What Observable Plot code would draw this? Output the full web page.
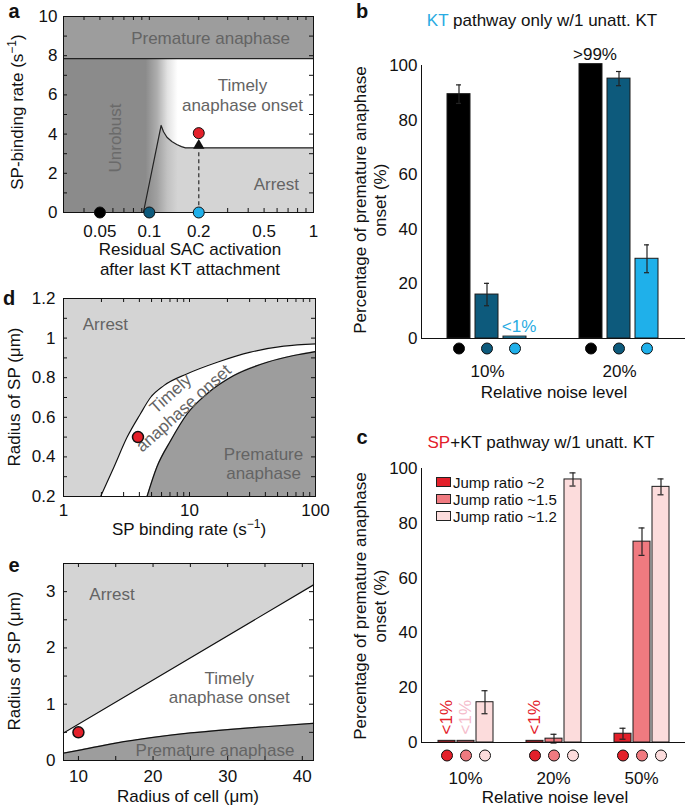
<!DOCTYPE html>
<html><head><meta charset="utf-8">
<script src="https://cdn.jsdelivr.net/npm/d3@7"></script>
<script src="https://cdn.jsdelivr.net/npm/@observablehq/plot@0.6"></script>
<style>
body{margin:0;background:#fff;}
#root{position:relative;width:685px;height:808px;font-family:"Liberation Sans",Arial,Helvetica,sans-serif;color:#111;overflow:hidden;background:#fff;}
.t{position:absolute;white-space:nowrap;transform:translate(-50%,-50%);font-size:17px;line-height:20px;text-align:center;}
.r{transform:translate(-50%,-50%) rotate(-90deg);}
.lg{position:absolute;font-size:15px;line-height:17px;white-space:nowrap;}
.lg span.sw{display:inline-block;width:13px;height:8px;border:1px solid #222;margin-right:2px;vertical-align:1px;}
</style></head><body><div id="root"></div>
<script>
// ================= DATA =================
// Panel a : phase diagram (log x)
const aXDomain = [0.03, 1];
const aYDomain = [0, 10];
const aXTicks = [0.05, 0.1, 0.2, 0.5, 1];
const aYTicks = [0, 2, 4, 6, 8, 10];
const aMinorX = [0.03,0.04,0.05,0.06,0.07,0.08,0.09,0.1,0.2,0.3,0.4,0.5,0.6,0.7,0.8,0.9];
const aMinorY = [1,2,3,4,5,6,7,8,9];
const aPrematureLevel = 7.85;
const aGradEnd = 0.15;
const aCurveX = [0.092, 0.118, 0.122, 0.128, 0.137, 0.147, 0.157, 0.166, 1];
const aCurveY = [0, 4.44, 4.12, 3.84, 3.62, 3.47, 3.36, 3.3, 3.3];
const aDotX = [0.05, 0.1, 0.2, 0.2];
const aDotY = [0, 0, 0, 4.05];
const aDotColor = ["#000000", "#0d5a7c", "#1fb0ea", "#e3202a"];
const aArrowX = [0.2];
const aArrowY = [0.35, 3.2];
const aArrowTipY = [3.42];
const aLabels = [
  {x: 0.236, y: 8.93, text: "Premature anaphase"},
  {x: 0.369, y: 6.0, text: "Timely\nanaphase onset"},
  {x: 0.594, y: 1.48, text: "Arrest"}
];
const aUnrobust = [{x: 0.062, y: 3.8, text: "Unrobust"}];

// Panel b : KT pathway only
const bGroupLabels = ["10%", "20%"];
const bGroup = ["10%","10%","10%","20%","20%","20%"];
const bMember = [0,1,2,0,1,2];
const bValue = [89.5, 16.1, 0.7, 100.5, 95.2, 29.2];
const bErr = [3.4, 4.1, 0, 0, 2.6, 5.1];
const bColors = ["#000000", "#0d5a7c", "#1fb0ea"];
const bNotes = [{g:"10%", k:2, v:0.7, text:"<1%", c:"#29abe2"}, {g:"20%", k:0, v:100.5, text:">99%", c:"#111111"}];

// Panel c : SP+KT pathway
const cGroupLabels = ["10%", "20%", "50%"];
const cGroup = ["10%","10%","10%","20%","20%","20%","50%","50%","50%"];
const cMember = [0,1,2,0,1,2,0,1,2];
const cValue = [0.6, 0.6, 14.7, 0.6, 1.4, 96.0, 3.2, 73.3, 93.3];
const cErr = [0, 0, 4.2, 0, 1.6, 2.4, 2.0, 5.0, 2.9];
const cColors = ["#e3202a", "#f07a80", "#fcdcdc"];
const cSeriesNames = ["Jump ratio ~2", "Jump ratio ~1.5", "Jump ratio ~1.2"];
const cNotes = [{g:"10%", k:0, text:"<1%", c:"#e3202a"}, {g:"10%", k:1, text:"<1%", c:"#f5bccb"}, {g:"20%", k:0, text:"<1%", c:"#e3202a"}];
const yTicksPct = [0, 20, 40, 60, 80, 100];

// Panel d : SP binding rate vs SP radius (log x)
const dXDomain = [1, 100];
const dYDomain = [0.2, 1.2];
const dXTicks = [1, 10, 100];
const dYTicks = [0.2, 0.4, 0.6, 0.8, 1, 1.2];
const dMinorX = [2,3,4,5,6,7,8,9,10,20,30,40,50,60,70,80,90];
const dMinorY = [0.3,0.4,0.5,0.6,0.7,0.8,0.9,1,1.1];
const dUpperX = [1.97, 2.51, 3.2, 4.08, 4.9, 6.25, 9.6, 16.6, 30.5, 56, 100];
const dUpperY = [0.2, 0.348, 0.5, 0.618, 0.70, 0.76, 0.82, 0.878, 0.929, 0.959, 0.971];
const dLowerX = [4.6, 5.5, 7.1, 9.6, 13.8, 22.5, 41.4, 67.3, 100];
const dLowerY = [0.2, 0.348, 0.483, 0.618, 0.719, 0.811, 0.878, 0.912, 0.932];
const dPoint = [{x: 3.9, y: 0.5}];
const dLabels = [{x: 2.15, y: 1.075, text: "Arrest"}, {x: 38.7, y: 0.368, text: "Premature\nanaphase"}];
const dTimely = [{x: 7.9, y: 0.685, text: "Timely\nanaphase onset"}];

// Panel e : cell radius vs SP radius
const eXDomain = [8, 41.5];
const eYDomain = [0, 3.5];
const eXTicks = [10, 20, 30, 40];
const eYTicks = [0, 1, 2, 3];
const eMinorX = [10,15,20,25,30,35,40];
const eMinorY = [0.5,1,1.5,2,2.5,3];
const eUpperX = [8, 41.5];
const eUpperY = [0.49, 3.12];
const eLowerX = [8, 10, 15, 20, 25, 30, 35, 41.5];
const eLowerY = [0.13, 0.18, 0.31, 0.41, 0.49, 0.55, 0.6, 0.66];
const ePoint = [{x: 10, y: 0.5}];
const eLabels = [{x: 14.5, y: 2.97, text: "Arrest"}, {x: 30.2, y: 1.3, text: "Timely\nanaphase onset"}, {x: 28.3, y: 0.19, text: "Premature anaphase"}];

// ================= STYLE =================
const FONT = '"Liberation Sans", Arial, Helvetica, sans-serif';
const LIGHT = "#d4d4d4", DARK = "#9d9d9d", UNROBUST = "#8b8b8b", RTEXT = "#646464";
const STYLE = {fontFamily: FONT, fontSize: "17px", color: "#111", background: "transparent", overflow: "visible"};
const root = document.getElementById("root");

function put(node, left, top) {
  node.style.position = "absolute"; node.style.left = left + "px"; node.style.top = top + "px";
  root.appendChild(node);
}
function label(html, cx, cy, opts = {}) {
  const d = document.createElement("div");
  d.className = "t" + (opts.rotate ? " r" : "");
  d.innerHTML = html;
  d.style.left = cx + "px"; d.style.top = cy + "px";
  if (opts.size) d.style.fontSize = opts.size + "px";
  if (opts.lh) d.style.lineHeight = opts.lh + "px";
  if (opts.bold) d.style.fontWeight = "bold";
  root.appendChild(d);
}
function innerTicks(xs, ys, iw, ih, len) {
  return [
    Plot.tickX(xs, {x: d => d, insetTop: ih - len, stroke: "#111"}),
    Plot.tickX(xs, {x: d => d, insetBottom: ih - len, stroke: "#111"}),
    Plot.tickY(ys, {y: d => d, insetRight: iw - len, stroke: "#111"}),
    Plot.tickY(ys, {y: d => d, insetLeft: iw - len, stroke: "#111"})
  ];
}
const pts = (xs, ys) => xs.map((x, i) => ({x, y: ys[i]}));

// ================= PANEL A =================
{
  const w = 340, h = 290, ml = 63, mr = 27, mt = 16, mb = 78;
  const gradDefs = () => {
    const defs = d3.create("svg:defs");
    const g = defs.append("linearGradient").attr("id", "unrobustGrad").attr("x1", 0).attr("x2", 1).attr("y1", 0).attr("y2", 0);
    [[0, 1], [0.72, 1], [0.82, 0.7], [0.91, 0.25], [1, 0]].forEach(([o, a]) =>
      g.append("stop").attr("offset", o).attr("stop-color", UNROBUST).attr("stop-opacity", a));
    return defs.node();
  };
  const plot = Plot.plot({
    width: w, height: h, marginLeft: ml, marginRight: mr, marginTop: mt, marginBottom: mb,
    style: STYLE,
    x: {type: "log", domain: aXDomain, ticks: aXTicks, tickSize: 0, tickPadding: 12, tickFormat: d => String(d), label: null},
    y: {domain: aYDomain, ticks: aYTicks, tickSize: 0, tickPadding: 6, tickFormat: d => String(d), label: null},
    color: {type: "identity"},
    marks: [
      gradDefs,
      Plot.areaY(pts(aCurveX, aCurveY), {x: "x", y1: 0, y2: "y", fill: LIGHT}),
      Plot.rect([aPrematureLevel], {x1: aXDomain[0], x2: aXDomain[1], y1: d => d, y2: aYDomain[1], fill: DARK}),
      Plot.rect([aGradEnd], {x1: aXDomain[0], x2: d => d, y1: aYDomain[0], y2: aPrematureLevel, fill: "url(#unrobustGrad)"}),
      Plot.ruleY([aPrematureLevel], {stroke: "#222", strokeWidth: 1.2}),
      Plot.line(pts(aCurveX, aCurveY), {x: "x", y: "y", stroke: "#222", strokeWidth: 1.2}),
      Plot.ruleX(aArrowX, {x: d => d, y1: aArrowY[0], y2: aArrowY[1], stroke: "#444", strokeWidth: 1.4, strokeDasharray: "4,3"}),
      Plot.dot(aArrowTipY, {x: aArrowX[0], y: d => d, symbol: "triangle", r: 4.2, fill: "#111"}),
      Plot.text(aLabels, {x: "x", y: "y", text: "text", fill: RTEXT, lineHeight: 1.15}),
      Plot.text(aUnrobust, {x: "x", y: "y", text: "text", fill: "#6a6a6a", rotate: -90}),
      ...innerTicks(aMinorX, aMinorY, w - ml - mr, h - mt - mb, 4),
      Plot.frame({stroke: "#111"}),
      Plot.dot(aDotX.map((x, i) => ({x, y: aDotY[i], c: aDotColor[i]})), {x: "x", y: "y", fill: "c", r: 5.5, stroke: "#111", strokeWidth: 1})
    ]
  });
  put(plot, 0, 0);
}

// ================= BAR PANELS =================
function barPanel({groups, members, values, errs, colors, groupLabels, left, top, w, h, mt, mb, pi, po, capInset, fxPad, dotDy, notes, rotatedNotes}) {
  const rows = groups.map((g, i) => ({g, k: members[i], v: values[i], e: errs[i], c: colors[members[i]]}));
  const eb = rows.filter(d => d.e > 0);
  const marks = [
    Plot.barY(rows, {fx: "g", x: "k", y: "v", fill: "c", stroke: "#1a1a1a", strokeWidth: 1}),
    Plot.ruleX(eb, {fx: "g", x: "k", y1: d => d.v - d.e, y2: d => d.v + d.e, stroke: "#222", strokeWidth: 1.2}),
    Plot.tickY(eb, {fx: "g", x: "k", y: d => d.v + d.e, insetLeft: capInset, insetRight: capInset, stroke: "#222", strokeWidth: 1.2}),
    Plot.tickY(eb, {fx: "g", x: "k", y: d => d.v - d.e, insetLeft: capInset, insetRight: capInset, stroke: "#222", strokeWidth: 1.2}),
    Plot.ruleY([0], {stroke: "#111"}),
    Plot.dot(rows, {fx: "g", x: "k", y: () => 0, dy: dotDy, r: 5.5, fill: "c", stroke: "#111", strokeWidth: 1})
  ];
  if (notes) marks.push(Plot.text(notes, {fx: "g", x: "k", y: "v", text: "text", fill: "c", dy: -10, dx: 4}));
  if (rotatedNotes) marks.push(Plot.text(rotatedNotes, {fx: "g", x: "k", y: () => 0, text: "text", fill: "c", rotate: -90, textAnchor: "start", dy: -8, fontSize: 17}));
  const plot = Plot.plot({
    width: w, height: h, marginLeft: 81, marginRight: 0, marginTop: mt, marginBottom: mb,
    style: STYLE,
    fx: {domain: groupLabels, padding: 0, axis: "bottom", tickSize: 0, tickPadding: fxPad, label: null},
    x: {domain: [0, 1, 2], paddingInner: pi, paddingOuter: po, axis: null},
    y: {domain: [0, 100], ticks: yTicksPct, tickSize: 0, tickPadding: 4, label: null, line: true},
    color: {type: "identity"},
    marks
  });
  put(plot, left, top);
}

barPanel({groups: bGroup, members: bMember, values: bValue, errs: bErr, colors: bColors, groupLabels: bGroupLabels,
  left: 340, top: 50, w: 345, h: 335, mt: 15, mb: 47, pi: 0.172, po: 0.862, capInset: 9, fxPad: 26, dotDy: 10,
  notes: bNotes});

barPanel({groups: cGroup, members: cMember, values: cValue, errs: cErr, colors: cColors, groupLabels: cGroupLabels,
  left: 340, top: 450, w: 345, h: 345, mt: 18, mb: 53, pi: 0.13, po: 0.82, capInset: 5.5, fxPad: 29, dotDy: 13,
  rotatedNotes: cNotes});

// ================= PANEL D =================
{
  const w = 340, h = 260, ml = 63, mr = 25, mt = 13, mb = 49;
  const plot = Plot.plot({
    width: w, height: h, marginLeft: ml, marginRight: mr, marginTop: mt, marginBottom: mb,
    style: STYLE,
    x: {type: "log", domain: dXDomain, ticks: dXTicks, tickSize: 0, tickPadding: 7, tickFormat: d => String(d), label: null},
    y: {domain: dYDomain, ticks: dYTicks, tickSize: 0, tickPadding: 8, tickFormat: d => String(d), label: null},
    marks: [
      Plot.frame({fill: LIGHT}),
      Plot.areaY(pts(dUpperX, dUpperY), {x: "x", y1: dYDomain[0], y2: "y", fill: "#fff", curve: "monotone-x"}),
      Plot.areaY(pts(dLowerX, dLowerY), {x: "x", y1: dYDomain[0], y2: "y", fill: DARK, curve: "monotone-x"}),
      Plot.line(pts(dUpperX, dUpperY), {x: "x", y: "y", stroke: "#111", strokeWidth: 1.2, curve: "monotone-x"}),
      Plot.line(pts(dLowerX, dLowerY), {x: "x", y: "y", stroke: "#111", strokeWidth: 1.2, curve: "monotone-x"}),
      Plot.text(dLabels, {x: "x", y: "y", text: "text", fill: RTEXT, lineHeight: 1.15}),
      Plot.text(dTimely, {x: "x", y: "y", text: "text", fill: RTEXT, lineHeight: 1.15, rotate: -42}),
      ...innerTicks(dMinorX, dMinorY, w - ml - mr, h - mt - mb, 4),
      Plot.frame({stroke: "#111"}),
      Plot.dot(dPoint, {x: "x", y: "y", r: 5.5, fill: "#e3202a", stroke: "#111"})
    ]
  });
  put(plot, 0, 285);
}

// ================= PANEL E =================
{
  const w = 340, h = 263, ml = 63, mr = 27, mt = 18, mb = 48;
  const plot = Plot.plot({
    width: w, height: h, marginLeft: ml, marginRight: mr, marginTop: mt, marginBottom: mb,
    style: STYLE,
    x: {domain: eXDomain, ticks: eXTicks, tickSize: 0, tickPadding: 9, tickFormat: d => String(d), label: null},
    y: {domain: eYDomain, ticks: eYTicks, tickSize: 0, tickPadding: 8, tickFormat: d => String(d), label: null},
    marks: [
      Plot.frame({fill: LIGHT}),
      Plot.areaY(pts(eUpperX, eUpperY), {x: "x", y1: eYDomain[0], y2: "y", fill: "#fff"}),
      Plot.areaY(pts(eLowerX, eLowerY), {x: "x", y1: eYDomain[0], y2: "y", fill: DARK, curve: "monotone-x"}),
      Plot.line(pts(eUpperX, eUpperY), {x: "x", y: "y", stroke: "#111", strokeWidth: 1.2}),
      Plot.line(pts(eLowerX, eLowerY), {x: "x", y: "y", stroke: "#111", strokeWidth: 1.2, curve: "monotone-x"}),
      Plot.text(eLabels, {x: "x", y: "y", text: "text", fill: RTEXT, lineHeight: 1.15}),
      ...innerTicks(eMinorX, eMinorY, w - ml - mr, h - mt - mb, 4),
      Plot.frame({stroke: "#111"}),
      Plot.dot(ePoint, {x: "x", y: "y", r: 5.5, fill: "#e3202a", stroke: "#111"})
    ]
  });
  put(plot, 0, 545);
}

// ================= TEXT (panel letters, titles, axis titles, legend) =================
label("a", 14, 11, {bold: true, size: 20, lh: 20});
label("b", 362, 11, {bold: true, size: 20, lh: 20});
label("c", 362, 437, {bold: true, size: 20, lh: 20});
label("d", 9, 298, {bold: true, size: 20, lh: 20});
label("e", 14, 565, {bold: true, size: 20, lh: 20});

label('<span style="color:#29abe2">KT</span> pathway only w/1 unatt. KT', 542, 21);
label('<span style="color:#e3202a">SP</span>+KT pathway w/1 unatt. KT', 541, 443);

label("SP-binding rate (s<sup style='font-size:12px'>−1</sup>)", 15, 112, {rotate: true});
label("Residual SAC activation<br>after last KT attachment", 190, 260);
label("Percentage of premature anaphase<br>onset (%)", 371, 200, {rotate: true});
label("Relative noise level", 554, 393);
label("Percentage of premature anaphase<br>onset (%)", 371, 606, {rotate: true});
label("Relative noise level", 555, 798);
label("Radius of SP (μm)", 15, 397, {rotate: true});
label("SP binding rate (s<sup style='font-size:12px'>−1</sup>)", 189, 527);
label("Radius of SP (μm)", 15, 661, {rotate: true});
label("Radius of cell (μm)", 188, 797);

{
  const lg = document.createElement("div");
  lg.className = "lg";
  lg.innerHTML = cSeriesNames.map((n, i) => `<div><span class="sw" style="background:${cColors[i]}"></span>${n}</div>`).join("");
  lg.style.left = "436px"; lg.style.top = "474px";
  root.appendChild(lg);
}
</script></body></html>
